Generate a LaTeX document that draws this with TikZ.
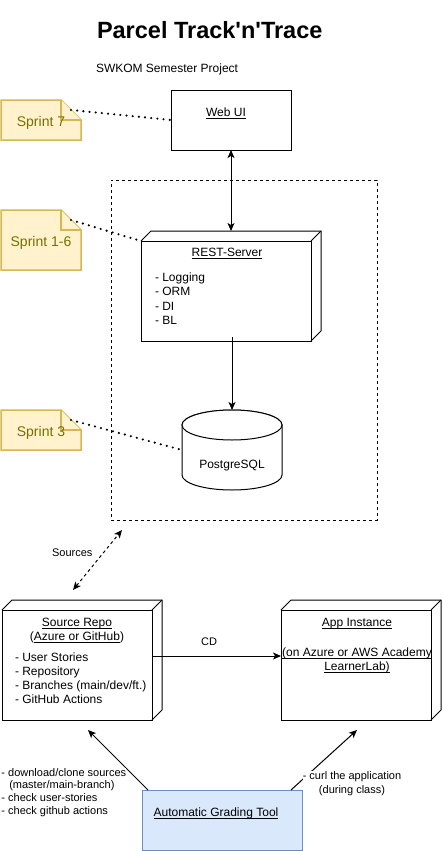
\documentclass[tikz,border=0pt]{standalone}
\usepackage{fontspec}
\setmainfont{Liberation Sans}
\usetikzlibrary{arrows.meta,calc}
\definecolor{notefill}{HTML}{FFF2CC}
\definecolor{notedraw}{HTML}{D6B656}
\definecolor{notetext}{HTML}{7A6E00}
\definecolor{gradefill}{HTML}{DAE8FC}
\definecolor{gradedraw}{HTML}{6C8EBF}
\newcommand\ulx[1]{\underline{\smash{#1}}}
\newcommand\drawnote[1]{%
  \filldraw[notestyle] (#1.north west) -- ([xshift=-20pt]#1.north east) -- ([yshift=-20pt]#1.north east) -- (#1.south east) -- (#1.south west) -- cycle;
  \draw[notestyle] ([xshift=-20pt]#1.north east) -- ([xshift=-20pt,yshift=-20pt]#1.north east) -- ([yshift=-20pt]#1.north east);}
\newcommand\threed[1]{%
  \draw[line width=1pt, line join=miter] (#1.north west) -- ++(10,-10) -- ([shift={(10pt,10pt)}]#1.north east) -- ([shift={(10pt,10pt)}]#1.south east) -- (#1.south east);
  \draw[line width=1pt] (#1.north east) -- ++(10,-10);}
\begin{document}
\begin{tikzpicture}[x=1pt,y=-1pt,
  every node/.style={inner sep=0pt, outer sep=0pt},
  frame/.style={draw, line width=1pt, fill=white},
  notestyle/.style={draw=notedraw, fill=notefill, line width=1.5pt, line join=miter},
  notetxt/.style={font=\fontsize{14}{16.8}\selectfont, text=notetext, anchor=base},
  txt/.style={font=\fontsize{12}{14.4}\selectfont, anchor=base},
  txtl/.style={font=\fontsize{12}{14.4}\selectfont, anchor=base west},
  small/.style={font=\fontsize{11}{13.2}\selectfont, anchor=base},
  smalll/.style={font=\fontsize{11}{13.2}\selectfont, anchor=base west},
  tip/.style={line width=1pt, -{Stealth[length=8pt,width=7pt,inset=2pt]}},
  dtip/.style={line width=1pt, {Stealth[length=8pt,width=7pt,inset=2pt]}-{Stealth[length=8pt,width=7pt,inset=2pt]}},
  dotline/.style={line width=2.4pt, line cap=round, dash pattern=on 0pt off 6.2pt},
]
\useasboundingbox (0,0) rectangle (442,851);

% title
\node[font=\bfseries\fontsize{23.5}{28}\selectfont, anchor=base west] (title) at (97,38.3) {Parcel Track\textquotesingle n\textquotesingle Trace};
\node[txtl] (subtitle) at (96,72.5) {SWKOM Semester Project};

% backend dashed frame
\node[draw, line width=1pt, dash pattern=on 3pt off 3pt, minimum width=266pt, minimum height=340pt] (backend) at (244,350) {};

% Web UI
\node[frame, minimum width=120pt, minimum height=60pt] (webui) at (231,120) {};
\node[txt] (webuit) at (226,116.5) {\ulx{Web UI}};

% REST server
\node[frame, minimum width=170pt, minimum height=100pt] (rest) at (226,291) {};
\threed{rest}
\node[txt] (restt) at (227,256.5) {\ulx{REST-Server}};
\node[txtl] (rl1) at (155,281.5) {- Logging};
\node[txtl] (rl2) at (155,295.8) {- ORM};
\node[txtl] (rl3) at (155,310.1) {- DI};
\node[txtl] (rl4) at (155,324.4) {- BL};

% PostgreSQL cylinder
\node[minimum width=100pt, minimum height=80pt] (pg) at (232,450) {};
\filldraw[fill=white, line width=1pt] (182,425) -- (182,475) arc[start angle=180, end angle=360, x radius=50pt, y radius=15pt] -- (282,425) arc[start angle=0, end angle=180, x radius=50pt, y radius=15pt] -- cycle;
\draw[line width=1pt, fill=white] (232,425) ellipse [x radius=50pt, y radius=15pt];
\node[txt] (pgt) at (232,468) {PostgreSQL};

% notes
\node[minimum width=80pt, minimum height=40pt] (s7) at (41,120) {};
\drawnote{s7}
\node[notetxt] (s7t) at (41,126) {Sprint 7};
\node[minimum width=80pt, minimum height=60pt] (s16) at (41,240) {};
\drawnote{s16}
\node[notetxt] (s16t) at (41,246.5) {Sprint 1-6};
\node[minimum width=80pt, minimum height=40pt] (s3) at (41,430) {};
\drawnote{s3}
\node[notetxt] (s3t) at (41,436.5) {Sprint 3};

\draw[dotline] ([xshift=-10pt,yshift=-10pt]s7.north east) -- (webui.west);
\draw[dotline] ([xshift=-10pt,yshift=-10pt]s16.north east) -- (rest.north west);
\draw[dotline] ([xshift=-10pt,yshift=-10pt]s3.north east) -- (pg.west);

% connectors backend
\draw[dtip] (webui.south) -- ([yshift=10pt]rest.north -| webui.south);
\draw[tip] ([yshift=4pt]rest.south -| pg.north) -- (pg.north);

% Sources
\coordinate (srcA) at (122,530);
\coordinate (srcB) at (73,590);
\draw[dtip, dash pattern=on 3pt off 3pt] (srcB) -- (srcA);
\node[small] (srct) at (72.3,556.5) {Sources};

% Source repo
\node[frame, minimum width=150pt, minimum height=110pt] (repo) at (77,665) {};
\threed{repo}
\node[txt] (repot) at (77,626.5) {\ulx{Source Repo}};
\node[txt] (repot2) at (77,640.7) {(\ulx{Azure or GitHub})};
\node[txtl] (rp1) at (15,661) {- User Stories};
\node[txtl] (rp2) at (15,675.3) {- Repository};
\node[txtl] (rp3) at (15,689.6) {- Branches (main/dev/ft.)};
\node[txtl] (rp4) at (15,703.9) {- GitHub Actions};

% App instance
\node[frame, minimum width=150pt, minimum height=110pt] (app) at (356,665) {};
\threed{app}
\node[txt] (appt) at (357,626.5) {\ulx{App Instance}};
\node[txt] (appt2) at (357,656.5) {\ulx{(on Azure or AWS Academy}};
\node[txt] (appt3) at (357,670.9) {\ulx{LearnerLab)}};

% CD
\draw[tip] ([yshift=9pt]repo.east) -- ([yshift=9pt]app.west);
\node[small] (cdt) at (209,645) {CD};

% grading tool
\node[draw=gradedraw, fill=gradefill, line width=1pt, minimum width=160pt, minimum height=60pt] (grade) at (222,820) {};
\node[txt] (gradet) at (216,816.5) {\ulx{Automatic Grading Tool}};

\coordinate (repotip) at (88,730);
\coordinate (apptip) at (357,730);
\draw[tip] ([xshift=6pt]grade.north west) -- (repotip);
\draw[tip] ([xshift=-11pt]grade.north east) -- (apptip);

\node[smalll, fill=white] (gl1) at (1.5,776.3) {- download/clone sources};
\node[smalll] (gl2) at (9.3,788.9) {(master/main-branch)};
\node[smalll] (gl3) at (1.5,801.5) {- check user-stories};
\node[smalll] (gl4) at (1.5,814.1) {- check github actions};
\node[small, fill=white] (gr1) at (352,779) {- curl the application};
\node[small] (gr2) at (352,793.3) {(during class)};
\end{tikzpicture}
\end{document}
